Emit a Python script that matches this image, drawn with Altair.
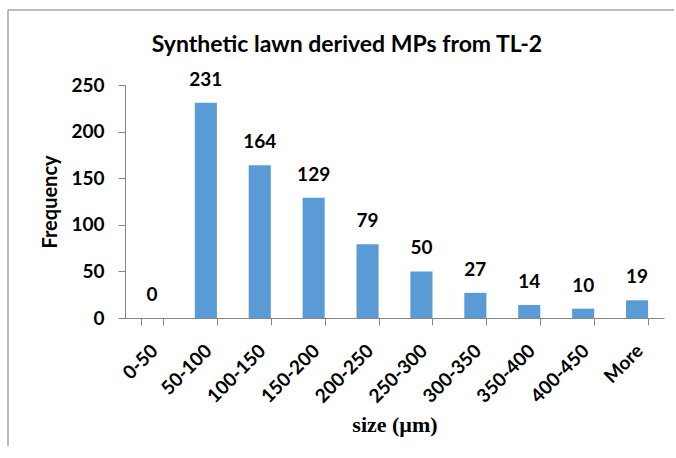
import altair as alt
import pandas as pd

# Histogram bins of particle size and their counts
bins = ["0-50", "50-100", "100-150", "150-200", "200-250",
        "250-300", "300-350", "350-400", "400-450", "More"]
counts = [0, 231, 164, 129, 79, 50, 27, 14, 10, 19]
chart_title = "Synthetic lawn derived MPs from TL-2"

df = pd.DataFrame({"bin": bins, "count": counts})

FONT = "Lato"
GREY = "#868686"

x_enc = alt.X(
    "bin:N",
    sort=bins,
    scale=alt.Scale(paddingInner=0.59, paddingOuter=0.295),
    axis=alt.Axis(
        title="size (\u00b5m)",
        titleFont="Liberation Serif",
        titleFontSize=22,
        titleFontWeight="bold",
        titlePadding=8,
        labelAngle=-45,
        labelFont=FONT,
        labelFontSize=19,
        labelFontWeight="bold",
        labelColor="black",
        labelPadding=16,
        labelOffset=-4,
        tickBand="extent",
        tickSize=7,
        tickColor=GREY,
        domainColor=GREY,
        grid=False,
    ),
)

y_enc = alt.Y(
    "count:Q",
    scale=alt.Scale(domain=[0, 250], nice=False),
    axis=alt.Axis(
        title="Frequency",
        titleFont=FONT,
        titleFontSize=20,
        titleFontWeight="bold",
        titlePadding=10,
        values=[0, 50, 100, 150, 200, 250],
        labelFont=FONT,
        labelFontSize=19,
        labelFontWeight="bold",
        labelColor="black",
        labelPadding=14,
        tickSize=7,
        tickColor=GREY,
        domainColor=GREY,
        grid=False,
    ),
)

bars = alt.Chart(df).mark_bar(color="#5B9BD5").encode(x=x_enc, y=y_enc)

labels = alt.Chart(df).mark_text(
    font=FONT, fontSize=19, fontWeight="bold", color="black",
    baseline="bottom", dy=-13,
).encode(x=alt.X("bin:N", sort=bins), y="count:Q", text="count:Q")

# Chart heading, centred over the plot
one_row = pd.DataFrame({"t": [chart_title]})
heading = alt.Chart(one_row).mark_text(
    font=FONT, fontSize=23, fontWeight="bold", color="black",
    align="center", baseline="alphabetic",
).encode(x=alt.value(222), y=alt.value(-33), text="t:N")

# Outer frame: top and left edges of the chart border
frame_left = alt.Chart(one_row).mark_rule(color="#A6A6A6", strokeWidth=1.5).encode(
    x=alt.value(-117), y=alt.value(-75), y2=alt.value(400)
)
frame_top = alt.Chart(one_row).mark_rule(color="#A6A6A6", strokeWidth=1.5).encode(
    x=alt.value(-117), x2=alt.value(551), y=alt.value(-75)
)

chart = alt.layer(bars, labels, heading, frame_left, frame_top).properties(
    width=539,
    height=233,
    autosize=alt.AutoSizeParams(type="none"),
    padding={"left": 125, "top": 85, "right": 10, "bottom": 128},
).configure(background="white", view=alt.ViewConfig(strokeWidth=0, stroke="transparent"))

chart.save("out.html", embed_options={"renderer": "svg", "actions": False})
